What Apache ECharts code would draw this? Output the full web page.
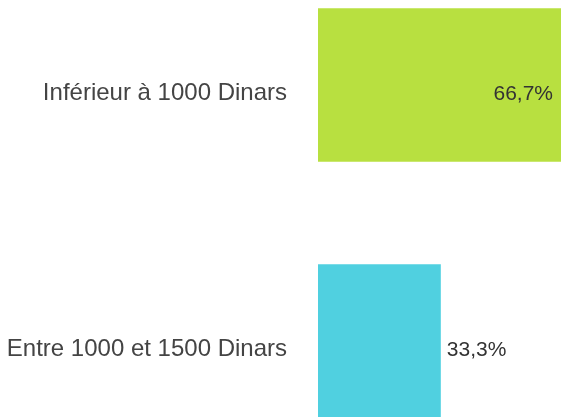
<!DOCTYPE html>
<html>
<head>
<meta charset="utf-8">
<script src="https://cdn.jsdelivr.net/npm/echarts@6/dist/echarts.min.js"></script>
<style>
  html, body { margin: 0; padding: 0; background: #fff; }
  #chart { width: 561px; height: 417px; }
</style>
</head>
<body>
<div id="chart"></div>
<script>
// Income brackets and their share of respondents (%)
const categories = ['Inférieur à 1000 Dinars', 'Entre 1000 et 1500 Dinars'];
const shares = [66.7, 33.3];
const barColors = ['#b8e040', '#50d0e0'];
const labelPlacement = ['insideRight', 'right'];

const chart = echarts.init(document.getElementById('chart'));

const FONT = '"Liberation Sans", Arial, sans-serif';

chart.setOption({
  animation: false,
  grid: {
    left: 318, right: -3, top: -43, bottom: -52,
    containLabel: false,
    outerBoundsMode: 'none'
  },
  xAxis: {
    type: 'value',
    min: 0,
    max: 66.7,
    show: false
  },
  yAxis: {
    type: 'category',
    data: categories,
    inverse: true,
    axisLine: { show: false },
    axisTick: { show: false },
    splitLine: { show: false },
    axisLabel: {
      color: '#444',
      fontFamily: FONT,
      fontSize: 24,
      margin: 31,
      verticalAlign: 'top',
      lineHeight: 17
    }
  },
  series: [{
    type: 'bar',
    barWidth: '60%',
    data: shares.map((v, i) => ({
      value: v,
      itemStyle: { color: barColors[i] },
      label: {
        show: true,
        position: labelPlacement[i],
        distance: i === 0 ? 11 : 6
      }
    })),
    label: {
      color: '#333',
      fontFamily: FONT,
      fontSize: 21,
      offset: [0, 9],
      formatter: p => String(p.value).replace('.', ',') + '%'
    }
  }]
});
</script>
</body>
</html>
